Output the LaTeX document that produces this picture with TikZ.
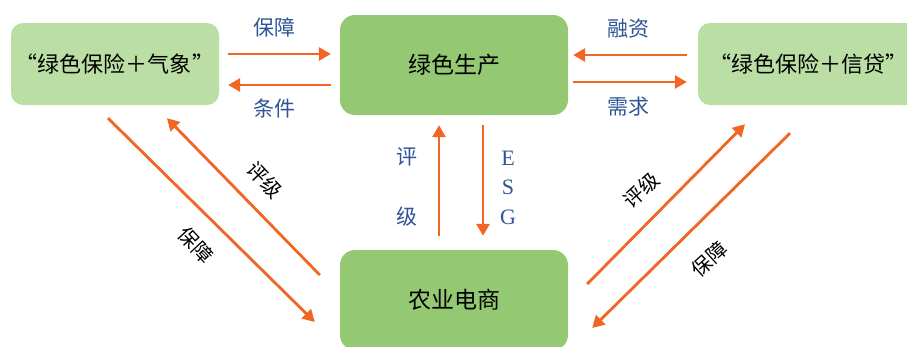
\documentclass[tikz,border=0pt]{standalone}
\usepackage{fontspec}
\setmainfont{Liberation Serif}
\newfontfamily\cjk{Noto Sans CJK SC}
\usepackage{xcolor}
\definecolor{hellgruen}{RGB}{187,222,164}
\definecolor{gruen}{RGB}{149,200,114}
\definecolor{orange}{RGB}{242,101,34}
\definecolor{blau}{RGB}{47,85,151}
\usepackage{tikz}
\usetikzlibrary{arrows.meta,positioning,calc}
\tikzset{
    kasten/.style={rounded corners=12pt, inner sep=0pt, align=center},
    pfeil/.style={-{Triangle[length=12pt,width=13pt]}, line width=2.8pt, color=orange},
    beschr/.style={color=blau, font=\cjk\fontsize{21}{24}\selectfont},
    schraeg/.style={font=\cjk\fontsize{20}{24}\selectfont}
}

\begin{document}
\begin{tikzpicture}[x=1pt,y=1pt]
        \clip (0,0) rectangle (907,-346);                                       % Umgebung
        \node[kasten, fill=hellgruen, minimum width=208pt, minimum height=82pt, font=\cjk\fontsize{22}{26}\selectfont] (links) at (115,-64) {“绿色保险＋气象”};   % linker Kasten
        \node[kasten, fill=gruen, rounded corners=15pt, minimum width=228pt, minimum height=100pt, font=\cjk\fontsize{23}{26}\selectfont] (mitte) at (454,-65) {绿色生产};   % oberer Kasten
        \node[kasten, fill=hellgruen, minimum width=220pt, minimum height=82pt, font=\cjk\fontsize{22}{26}\selectfont] (rechts) at (808,-64) {“绿色保险＋信贷”};  % rechter Kasten
        \node[kasten, fill=gruen, rounded corners=15pt, minimum width=228pt, minimum height=100pt, font=\cjk\fontsize{23}{26}\selectfont] (unten) at (454,-300) {农业电商};   % unterer Kasten
        \draw[pfeil] ([xshift=9pt,yshift=10pt]links.east) -- ([xshift=-9pt,yshift=11pt]mitte.west);        % Pfeil Baozhang
        \draw[pfeil] ([xshift=-9pt,yshift=-20pt]mitte.west) -- ([xshift=9pt,yshift=-21pt]links.east);      % Pfeil Tiaojian
        \draw[pfeil] ([xshift=-11pt,yshift=9pt]rechts.west) -- ([xshift=5pt,yshift=10pt]mitte.east);       % Pfeil Rongzi
        \draw[pfeil] ([xshift=5pt,yshift=-17pt]mitte.east) -- ([xshift=-11pt,yshift=-18pt]rechts.west);    % Pfeil Xuqiu
        \draw[pfeil] ([xshift=-15pt,yshift=14pt]unten.north) -- ([xshift=-15pt,yshift=-10pt]mitte.south);  % Pfeil Pingji
        \draw[pfeil] ([xshift=29pt,yshift=-10pt]mitte.south) -- ([xshift=29pt,yshift=14pt]unten.north);    % Pfeil ESG
        \draw[pfeil] ([xshift=-7pt,yshift=-13pt]links.south) -- ([xshift=-25pt,yshift=-22pt]unten.west);   % Pfeil links unten
        \draw[pfeil] ([xshift=-20pt,yshift=25pt]unten.west) -- ([xshift=52pt,yshift=-13pt]links.south);    % Pfeil links oben
        \draw[pfeil] ([xshift=19pt,yshift=16pt]unten.east) -- ([xshift=-63pt,yshift=-19pt]rechts.south);   % Pfeil rechts oben
        \draw[pfeil] ([xshift=-18pt,yshift=-28pt]rechts.south) -- ([xshift=24pt,yshift=-28pt]unten.east);  % Pfeil rechts unten
        \node[beschr] (baozhang) at (274,-27) {保障};                            % Beschriftung oben links
        \node[beschr] (tiaojian) at (274,-108) {条件};                           % Beschriftung unten links
        \node[beschr] (rongzi) at (628,-29) {融资};                              % Beschriftung oben rechts
        \node[beschr] (xuqiu) at (628,-107) {需求};                              % Beschriftung unten rechts
        \node[beschr] (ping) at (407,-157) {评};                                 % senkrecht Ping
        \node[beschr] (ji) at (407,-217) {级};                                   % senkrecht Ji
        \node[color=blau, font=\fontsize{22}{24}\selectfont] (e) at (508,-158) {E}; % E
        \node[color=blau, font=\fontsize{22}{24}\selectfont] (s) at (508,-187) {S}; % S
        \node[color=blau, font=\fontsize{22}{24}\selectfont] (g) at (508,-217) {G}; % G
        \node[schraeg, rotate=-47, inner sep=0pt] (pingjilinks) at (265,-180) {评级};     % schraeg links oben
        \node[schraeg, rotate=-47, inner sep=0pt] (baozhanglinks) at (196,-245) {保障};   % schraeg links unten
        \node[schraeg, rotate=42, inner sep=0pt] (pingjirechts) at (641,-190) {评级};     % schraeg rechts oben
        \node[schraeg, rotate=42, inner sep=0pt] (baozhangrechts) at (709,-259) {保障};   % schraeg rechts unten
    \end{tikzpicture}
\end{document}
